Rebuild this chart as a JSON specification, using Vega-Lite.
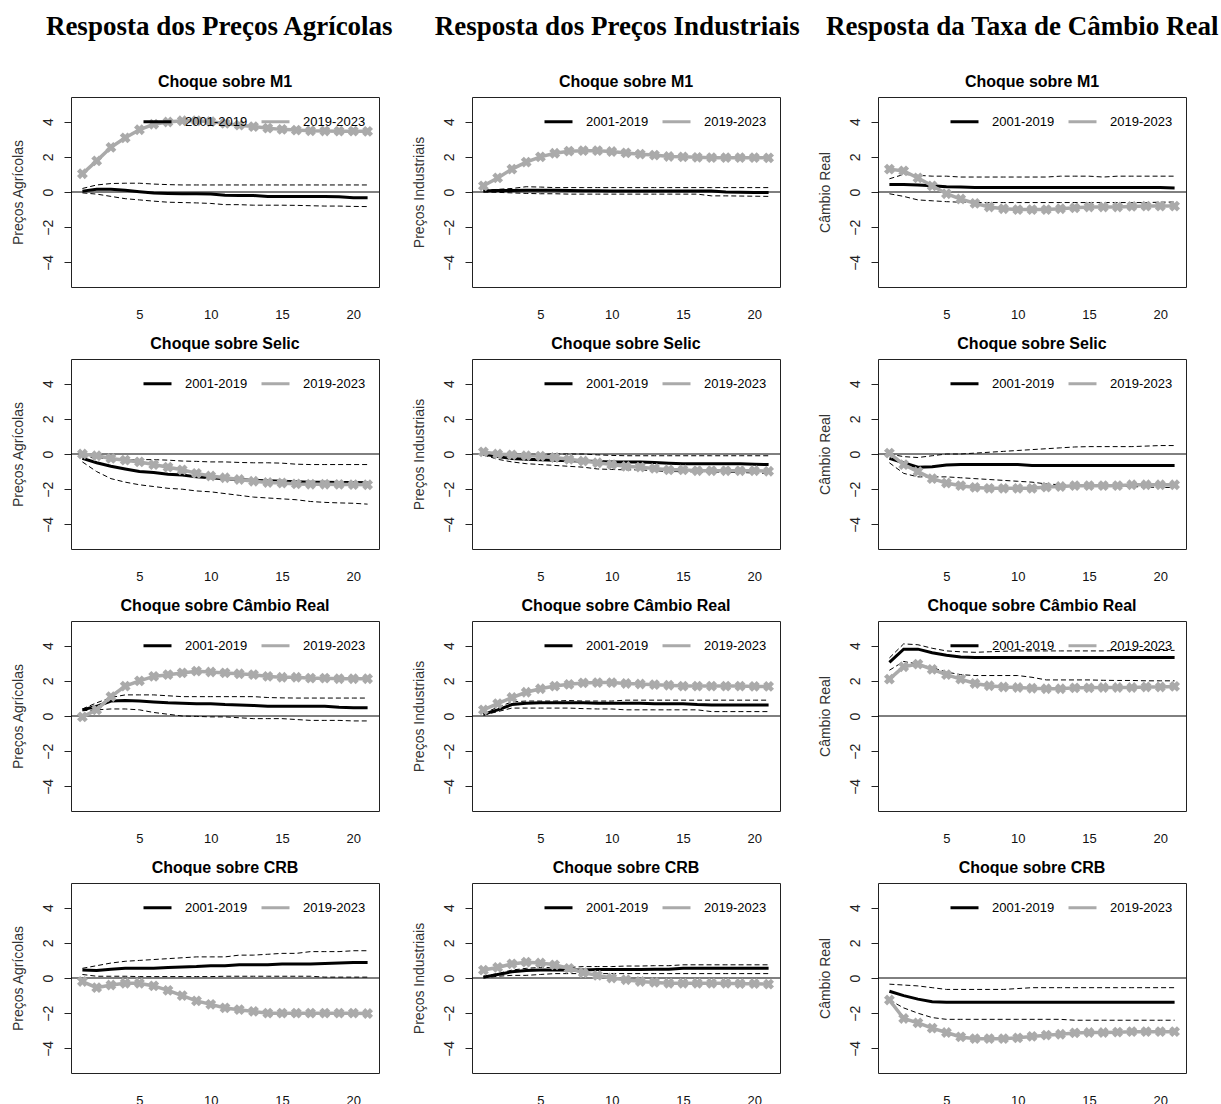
{
"$schema": "https://vega.github.io/schema/vega-lite/v6.json",
"padding": {"left": 10, "top": 12, "right": 0, "bottom": 0},
"data": {"values": [
{"p":"A1","h":1,"b":0.05,"u":0.2,"l":-0.05,"g":1.04},
{"p":"A1","h":2,"b":0.15,"u":0.4,"l":-0.12,"g":1.77},
{"p":"A1","h":3,"b":0.15,"u":0.48,"l":-0.25,"g":2.54},
{"p":"A1","h":4,"b":0.1,"u":0.5,"l":-0.38,"g":3.08},
{"p":"A1","h":5,"b":0.02,"u":0.5,"l":-0.45,"g":3.54},
{"p":"A1","h":6,"b":-0.05,"u":0.45,"l":-0.52,"g":3.85},
{"p":"A1","h":7,"b":-0.08,"u":0.42,"l":-0.58,"g":3.98},
{"p":"A1","h":8,"b":-0.1,"u":0.4,"l":-0.6,"g":4.05},
{"p":"A1","h":9,"b":-0.1,"u":0.4,"l":-0.62,"g":4.05},
{"p":"A1","h":10,"b":-0.12,"u":0.4,"l":-0.65,"g":4.0},
{"p":"A1","h":11,"b":-0.18,"u":0.4,"l":-0.72,"g":3.9},
{"p":"A1","h":12,"b":-0.2,"u":0.4,"l":-0.72,"g":3.8},
{"p":"A1","h":13,"b":-0.2,"u":0.4,"l":-0.75,"g":3.72},
{"p":"A1","h":14,"b":-0.25,"u":0.4,"l":-0.75,"g":3.63},
{"p":"A1","h":15,"b":-0.25,"u":0.4,"l":-0.75,"g":3.56},
{"p":"A1","h":16,"b":-0.25,"u":0.4,"l":-0.76,"g":3.52},
{"p":"A1","h":17,"b":-0.25,"u":0.4,"l":-0.78,"g":3.48},
{"p":"A1","h":18,"b":-0.26,"u":0.4,"l":-0.8,"g":3.47},
{"p":"A1","h":19,"b":-0.27,"u":0.4,"l":-0.8,"g":3.46},
{"p":"A1","h":20,"b":-0.32,"u":0.4,"l":-0.82,"g":3.46},
{"p":"A1","h":21,"b":-0.32,"u":0.4,"l":-0.83,"g":3.45},
{"p":"A2","h":1,"b":-0.25,"u":-0.15,"l":-0.45,"g":0.0},
{"p":"A2","h":2,"b":-0.5,"u":-0.2,"l":-1.0,"g":-0.1},
{"p":"A2","h":3,"b":-0.7,"u":-0.3,"l":-1.4,"g":-0.25},
{"p":"A2","h":4,"b":-0.85,"u":-0.35,"l":-1.6,"g":-0.35},
{"p":"A2","h":5,"b":-1.0,"u":-0.32,"l":-1.75,"g":-0.45},
{"p":"A2","h":6,"b":-1.05,"u":-0.32,"l":-1.85,"g":-0.6},
{"p":"A2","h":7,"b":-1.15,"u":-0.35,"l":-1.95,"g":-0.75},
{"p":"A2","h":8,"b":-1.2,"u":-0.4,"l":-2.0,"g":-0.9},
{"p":"A2","h":9,"b":-1.3,"u":-0.42,"l":-2.1,"g":-1.1},
{"p":"A2","h":10,"b":-1.35,"u":-0.45,"l":-2.15,"g":-1.25},
{"p":"A2","h":11,"b":-1.4,"u":-0.45,"l":-2.25,"g":-1.35},
{"p":"A2","h":12,"b":-1.45,"u":-0.48,"l":-2.35,"g":-1.45},
{"p":"A2","h":13,"b":-1.5,"u":-0.5,"l":-2.45,"g":-1.55},
{"p":"A2","h":14,"b":-1.52,"u":-0.5,"l":-2.5,"g":-1.62},
{"p":"A2","h":15,"b":-1.55,"u":-0.52,"l":-2.55,"g":-1.65},
{"p":"A2","h":16,"b":-1.58,"u":-0.58,"l":-2.6,"g":-1.7},
{"p":"A2","h":17,"b":-1.6,"u":-0.6,"l":-2.7,"g":-1.72},
{"p":"A2","h":18,"b":-1.6,"u":-0.6,"l":-2.75,"g":-1.72},
{"p":"A2","h":19,"b":-1.62,"u":-0.6,"l":-2.78,"g":-1.73},
{"p":"A2","h":20,"b":-1.62,"u":-0.6,"l":-2.8,"g":-1.74},
{"p":"A2","h":21,"b":-1.63,"u":-0.6,"l":-2.85,"g":-1.75},
{"p":"A3","h":1,"b":0.35,"u":0.4,"l":0.3,"g":-0.05},
{"p":"A3","h":2,"b":0.55,"u":0.75,"l":0.35,"g":0.35},
{"p":"A3","h":3,"b":0.85,"u":1.05,"l":0.4,"g":1.1},
{"p":"A3","h":4,"b":0.88,"u":1.2,"l":0.4,"g":1.7},
{"p":"A3","h":5,"b":0.85,"u":1.2,"l":0.35,"g":2.0},
{"p":"A3","h":6,"b":0.8,"u":1.2,"l":0.2,"g":2.25},
{"p":"A3","h":7,"b":0.75,"u":1.15,"l":0.1,"g":2.35},
{"p":"A3","h":8,"b":0.72,"u":1.1,"l":0.0,"g":2.45},
{"p":"A3","h":9,"b":0.7,"u":1.1,"l":-0.02,"g":2.55},
{"p":"A3","h":10,"b":0.7,"u":1.1,"l":-0.05,"g":2.5},
{"p":"A3","h":11,"b":0.65,"u":1.1,"l":-0.05,"g":2.45},
{"p":"A3","h":12,"b":0.63,"u":1.1,"l":-0.1,"g":2.4},
{"p":"A3","h":13,"b":0.6,"u":1.1,"l":-0.15,"g":2.35},
{"p":"A3","h":14,"b":0.55,"u":1.05,"l":-0.15,"g":2.25},
{"p":"A3","h":15,"b":0.55,"u":1.03,"l":-0.15,"g":2.2},
{"p":"A3","h":16,"b":0.55,"u":1.02,"l":-0.2,"g":2.2},
{"p":"A3","h":17,"b":0.55,"u":1.02,"l":-0.25,"g":2.15},
{"p":"A3","h":18,"b":0.55,"u":1.02,"l":-0.25,"g":2.15},
{"p":"A3","h":19,"b":0.5,"u":1.02,"l":-0.25,"g":2.12},
{"p":"A3","h":20,"b":0.47,"u":1.02,"l":-0.28,"g":2.12},
{"p":"A3","h":21,"b":0.47,"u":1.02,"l":-0.28,"g":2.12},
{"p":"A4","h":1,"b":0.45,"u":0.55,"l":0.2,"g":-0.2},
{"p":"A4","h":2,"b":0.42,"u":0.7,"l":0.1,"g":-0.55},
{"p":"A4","h":3,"b":0.5,"u":0.85,"l":0.1,"g":-0.4},
{"p":"A4","h":4,"b":0.55,"u":0.95,"l":0.1,"g":-0.3},
{"p":"A4","h":5,"b":0.55,"u":1.0,"l":0.08,"g":-0.3},
{"p":"A4","h":6,"b":0.55,"u":1.05,"l":0.08,"g":-0.45},
{"p":"A4","h":7,"b":0.6,"u":1.1,"l":0.08,"g":-0.7},
{"p":"A4","h":8,"b":0.62,"u":1.15,"l":0.08,"g":-1.0},
{"p":"A4","h":9,"b":0.65,"u":1.2,"l":0.08,"g":-1.3},
{"p":"A4","h":10,"b":0.7,"u":1.2,"l":0.08,"g":-1.5},
{"p":"A4","h":11,"b":0.7,"u":1.2,"l":0.1,"g":-1.7},
{"p":"A4","h":12,"b":0.75,"u":1.3,"l":0.1,"g":-1.8},
{"p":"A4","h":13,"b":0.75,"u":1.3,"l":0.1,"g":-1.9},
{"p":"A4","h":14,"b":0.75,"u":1.35,"l":0.1,"g":-2.0},
{"p":"A4","h":15,"b":0.8,"u":1.4,"l":0.1,"g":-2.0},
{"p":"A4","h":16,"b":0.8,"u":1.4,"l":0.1,"g":-2.0},
{"p":"A4","h":17,"b":0.8,"u":1.5,"l":0.1,"g":-2.0},
{"p":"A4","h":18,"b":0.82,"u":1.5,"l":0.05,"g":-2.0},
{"p":"A4","h":19,"b":0.85,"u":1.5,"l":0.05,"g":-2.0},
{"p":"A4","h":20,"b":0.88,"u":1.55,"l":0.05,"g":-2.0},
{"p":"A4","h":21,"b":0.88,"u":1.55,"l":0.05,"g":-2.02},
{"p":"I1","h":1,"b":0.05,"u":0.1,"l":0.0,"g":0.35},
{"p":"I1","h":2,"b":0.08,"u":0.15,"l":-0.02,"g":0.8},
{"p":"I1","h":3,"b":0.08,"u":0.2,"l":-0.05,"g":1.3},
{"p":"I1","h":4,"b":0.1,"u":0.3,"l":-0.08,"g":1.7},
{"p":"I1","h":5,"b":0.1,"u":0.28,"l":-0.1,"g":2.0},
{"p":"I1","h":6,"b":0.1,"u":0.25,"l":-0.1,"g":2.2},
{"p":"I1","h":7,"b":0.08,"u":0.25,"l":-0.12,"g":2.32},
{"p":"I1","h":8,"b":0.07,"u":0.25,"l":-0.12,"g":2.35},
{"p":"I1","h":9,"b":0.07,"u":0.25,"l":-0.12,"g":2.35},
{"p":"I1","h":10,"b":0.06,"u":0.25,"l":-0.12,"g":2.3},
{"p":"I1","h":11,"b":0.06,"u":0.25,"l":-0.12,"g":2.22},
{"p":"I1","h":12,"b":0.06,"u":0.25,"l":-0.12,"g":2.15},
{"p":"I1","h":13,"b":0.06,"u":0.25,"l":-0.12,"g":2.1},
{"p":"I1","h":14,"b":0.05,"u":0.25,"l":-0.12,"g":2.02},
{"p":"I1","h":15,"b":0.05,"u":0.25,"l":-0.12,"g":2.0},
{"p":"I1","h":16,"b":0.05,"u":0.25,"l":-0.12,"g":1.97},
{"p":"I1","h":17,"b":0.05,"u":0.25,"l":-0.22,"g":1.95},
{"p":"I1","h":18,"b":0.0,"u":0.25,"l":-0.22,"g":1.95},
{"p":"I1","h":19,"b":-0.02,"u":0.25,"l":-0.23,"g":1.95},
{"p":"I1","h":20,"b":-0.03,"u":0.25,"l":-0.24,"g":1.95},
{"p":"I1","h":21,"b":-0.03,"u":0.25,"l":-0.25,"g":1.94},
{"p":"I2","h":1,"b":0.0,"u":0.0,"l":-0.05,"g":0.12},
{"p":"I2","h":2,"b":-0.15,"u":-0.1,"l":-0.3,"g":0.0},
{"p":"I2","h":3,"b":-0.25,"u":-0.1,"l":-0.45,"g":-0.05},
{"p":"I2","h":4,"b":-0.3,"u":-0.05,"l":-0.55,"g":-0.1},
{"p":"I2","h":5,"b":-0.32,"u":-0.02,"l":-0.6,"g":-0.12},
{"p":"I2","h":6,"b":-0.35,"u":0.0,"l":-0.65,"g":-0.2},
{"p":"I2","h":7,"b":-0.38,"u":0.0,"l":-0.7,"g":-0.3},
{"p":"I2","h":8,"b":-0.4,"u":0.0,"l":-0.75,"g":-0.4},
{"p":"I2","h":9,"b":-0.42,"u":-0.05,"l":-0.85,"g":-0.5},
{"p":"I2","h":10,"b":-0.45,"u":-0.08,"l":-0.88,"g":-0.6},
{"p":"I2","h":11,"b":-0.45,"u":-0.1,"l":-0.9,"g":-0.7},
{"p":"I2","h":12,"b":-0.45,"u":-0.1,"l":-0.9,"g":-0.75},
{"p":"I2","h":13,"b":-0.48,"u":-0.1,"l":-0.95,"g":-0.82},
{"p":"I2","h":14,"b":-0.52,"u":-0.1,"l":-1.0,"g":-0.9},
{"p":"I2","h":15,"b":-0.55,"u":-0.1,"l":-1.0,"g":-0.9},
{"p":"I2","h":16,"b":-0.55,"u":-0.1,"l":-1.02,"g":-0.95},
{"p":"I2","h":17,"b":-0.55,"u":-0.1,"l":-1.02,"g":-0.95},
{"p":"I2","h":18,"b":-0.55,"u":-0.1,"l":-1.05,"g":-0.95},
{"p":"I2","h":19,"b":-0.55,"u":-0.1,"l":-1.05,"g":-0.95},
{"p":"I2","h":20,"b":-0.58,"u":-0.1,"l":-1.08,"g":-0.95},
{"p":"I2","h":21,"b":-0.6,"u":-0.1,"l":-1.1,"g":-0.98},
{"p":"I3","h":1,"b":0.1,"u":0.15,"l":0.05,"g":0.35},
{"p":"I3","h":2,"b":0.35,"u":0.5,"l":0.25,"g":0.7},
{"p":"I3","h":3,"b":0.65,"u":0.8,"l":0.45,"g":1.05},
{"p":"I3","h":4,"b":0.72,"u":0.85,"l":0.45,"g":1.35},
{"p":"I3","h":5,"b":0.75,"u":0.85,"l":0.45,"g":1.55},
{"p":"I3","h":6,"b":0.75,"u":0.85,"l":0.45,"g":1.7},
{"p":"I3","h":7,"b":0.75,"u":0.88,"l":0.45,"g":1.8},
{"p":"I3","h":8,"b":0.75,"u":0.85,"l":0.42,"g":1.88},
{"p":"I3","h":9,"b":0.72,"u":0.85,"l":0.4,"g":1.9},
{"p":"I3","h":10,"b":0.72,"u":0.85,"l":0.4,"g":1.9},
{"p":"I3","h":11,"b":0.72,"u":0.9,"l":0.35,"g":1.85},
{"p":"I3","h":12,"b":0.72,"u":0.9,"l":0.35,"g":1.82},
{"p":"I3","h":13,"b":0.7,"u":0.9,"l":0.35,"g":1.78},
{"p":"I3","h":14,"b":0.7,"u":0.9,"l":0.35,"g":1.75},
{"p":"I3","h":15,"b":0.7,"u":0.9,"l":0.35,"g":1.7},
{"p":"I3","h":16,"b":0.65,"u":0.9,"l":0.35,"g":1.7},
{"p":"I3","h":17,"b":0.63,"u":0.9,"l":0.25,"g":1.7},
{"p":"I3","h":18,"b":0.63,"u":0.9,"l":0.25,"g":1.7},
{"p":"I3","h":19,"b":0.62,"u":0.9,"l":0.25,"g":1.7},
{"p":"I3","h":20,"b":0.62,"u":0.9,"l":0.25,"g":1.68},
{"p":"I3","h":21,"b":0.62,"u":0.9,"l":0.25,"g":1.68},
{"p":"I4","h":1,"b":0.05,"u":0.1,"l":0.0,"g":0.45},
{"p":"I4","h":2,"b":0.2,"u":0.25,"l":0.1,"g":0.6},
{"p":"I4","h":3,"b":0.35,"u":0.45,"l":0.15,"g":0.8},
{"p":"I4","h":4,"b":0.42,"u":0.55,"l":0.15,"g":0.9},
{"p":"I4","h":5,"b":0.45,"u":0.6,"l":0.2,"g":0.85},
{"p":"I4","h":6,"b":0.45,"u":0.6,"l":0.25,"g":0.75},
{"p":"I4","h":7,"b":0.45,"u":0.6,"l":0.25,"g":0.55},
{"p":"I4","h":8,"b":0.45,"u":0.65,"l":0.25,"g":0.3},
{"p":"I4","h":9,"b":0.48,"u":0.65,"l":0.25,"g":0.15},
{"p":"I4","h":10,"b":0.48,"u":0.65,"l":0.25,"g":0.0},
{"p":"I4","h":11,"b":0.48,"u":0.68,"l":0.25,"g":-0.1},
{"p":"I4","h":12,"b":0.48,"u":0.68,"l":0.25,"g":-0.2},
{"p":"I4","h":13,"b":0.5,"u":0.7,"l":0.25,"g":-0.25},
{"p":"I4","h":14,"b":0.5,"u":0.7,"l":0.25,"g":-0.3},
{"p":"I4","h":15,"b":0.55,"u":0.75,"l":0.25,"g":-0.3},
{"p":"I4","h":16,"b":0.55,"u":0.75,"l":0.25,"g":-0.3},
{"p":"I4","h":17,"b":0.55,"u":0.75,"l":0.25,"g":-0.3},
{"p":"I4","h":18,"b":0.55,"u":0.75,"l":0.25,"g":-0.3},
{"p":"I4","h":19,"b":0.55,"u":0.75,"l":0.25,"g":-0.32},
{"p":"I4","h":20,"b":0.55,"u":0.75,"l":0.25,"g":-0.32},
{"p":"I4","h":21,"b":0.55,"u":0.75,"l":0.25,"g":-0.35},
{"p":"C1","h":1,"b":0.42,"u":0.75,"l":-0.1,"g":1.3},
{"p":"C1","h":2,"b":0.42,"u":1.0,"l":-0.25,"g":1.2},
{"p":"C1","h":3,"b":0.4,"u":0.95,"l":-0.45,"g":0.8},
{"p":"C1","h":4,"b":0.35,"u":0.9,"l":-0.5,"g":0.35},
{"p":"C1","h":5,"b":0.3,"u":0.9,"l":-0.55,"g":-0.1},
{"p":"C1","h":6,"b":0.28,"u":0.85,"l":-0.58,"g":-0.4},
{"p":"C1","h":7,"b":0.25,"u":0.85,"l":-0.6,"g":-0.65},
{"p":"C1","h":8,"b":0.25,"u":0.85,"l":-0.6,"g":-0.85},
{"p":"C1","h":9,"b":0.25,"u":0.85,"l":-0.6,"g":-0.95},
{"p":"C1","h":10,"b":0.25,"u":0.85,"l":-0.6,"g":-1.0},
{"p":"C1","h":11,"b":0.25,"u":0.85,"l":-0.6,"g":-1.0},
{"p":"C1","h":12,"b":0.25,"u":0.85,"l":-0.6,"g":-1.0},
{"p":"C1","h":13,"b":0.25,"u":0.9,"l":-0.6,"g":-0.95},
{"p":"C1","h":14,"b":0.25,"u":0.9,"l":-0.6,"g":-0.9},
{"p":"C1","h":15,"b":0.25,"u":0.9,"l":-0.6,"g":-0.85},
{"p":"C1","h":16,"b":0.25,"u":0.85,"l":-0.6,"g":-0.85},
{"p":"C1","h":17,"b":0.25,"u":0.9,"l":-0.6,"g":-0.85},
{"p":"C1","h":18,"b":0.25,"u":0.9,"l":-0.6,"g":-0.82},
{"p":"C1","h":19,"b":0.25,"u":0.9,"l":-0.6,"g":-0.8},
{"p":"C1","h":20,"b":0.25,"u":0.9,"l":-0.58,"g":-0.8},
{"p":"C1","h":21,"b":0.23,"u":0.9,"l":-0.57,"g":-0.8},
{"p":"C2","h":1,"b":-0.25,"u":0.0,"l":-0.5,"g":0.05},
{"p":"C2","h":2,"b":-0.5,"u":-0.15,"l":-1.1,"g":-0.6},
{"p":"C2","h":3,"b":-0.75,"u":-0.2,"l":-1.3,"g":-1.0},
{"p":"C2","h":4,"b":-0.72,"u":-0.1,"l":-1.3,"g":-1.4},
{"p":"C2","h":5,"b":-0.62,"u":0.0,"l":-1.3,"g":-1.65},
{"p":"C2","h":6,"b":-0.6,"u":0.0,"l":-1.35,"g":-1.8},
{"p":"C2","h":7,"b":-0.6,"u":0.05,"l":-1.4,"g":-1.9},
{"p":"C2","h":8,"b":-0.6,"u":0.1,"l":-1.45,"g":-1.95},
{"p":"C2","h":9,"b":-0.6,"u":0.15,"l":-1.5,"g":-1.95},
{"p":"C2","h":10,"b":-0.6,"u":0.2,"l":-1.55,"g":-1.95},
{"p":"C2","h":11,"b":-0.65,"u":0.25,"l":-1.6,"g":-1.95},
{"p":"C2","h":12,"b":-0.65,"u":0.3,"l":-1.7,"g":-1.88},
{"p":"C2","h":13,"b":-0.65,"u":0.35,"l":-1.75,"g":-1.85},
{"p":"C2","h":14,"b":-0.65,"u":0.4,"l":-1.8,"g":-1.8},
{"p":"C2","h":15,"b":-0.65,"u":0.42,"l":-1.82,"g":-1.8},
{"p":"C2","h":16,"b":-0.65,"u":0.42,"l":-1.83,"g":-1.8},
{"p":"C2","h":17,"b":-0.65,"u":0.42,"l":-1.84,"g":-1.8},
{"p":"C2","h":18,"b":-0.65,"u":0.42,"l":-1.85,"g":-1.75},
{"p":"C2","h":19,"b":-0.65,"u":0.45,"l":-1.88,"g":-1.75},
{"p":"C2","h":20,"b":-0.65,"u":0.48,"l":-1.9,"g":-1.75},
{"p":"C2","h":21,"b":-0.65,"u":0.48,"l":-1.9,"g":-1.75},
{"p":"C3","h":1,"b":3.05,"u":3.3,"l":2.6,"g":2.1},
{"p":"C3","h":2,"b":3.8,"u":4.1,"l":3.1,"g":2.8},
{"p":"C3","h":3,"b":3.8,"u":4.05,"l":2.95,"g":2.95},
{"p":"C3","h":4,"b":3.6,"u":3.85,"l":2.75,"g":2.65},
{"p":"C3","h":5,"b":3.45,"u":3.7,"l":2.5,"g":2.35},
{"p":"C3","h":6,"b":3.35,"u":3.65,"l":2.35,"g":2.1},
{"p":"C3","h":7,"b":3.33,"u":3.62,"l":2.3,"g":1.85},
{"p":"C3","h":8,"b":3.33,"u":3.65,"l":2.3,"g":1.72},
{"p":"C3","h":9,"b":3.33,"u":3.68,"l":2.3,"g":1.65},
{"p":"C3","h":10,"b":3.33,"u":3.7,"l":2.3,"g":1.62},
{"p":"C3","h":11,"b":3.33,"u":3.7,"l":2.2,"g":1.58},
{"p":"C3","h":12,"b":3.33,"u":3.7,"l":2.05,"g":1.55},
{"p":"C3","h":13,"b":3.33,"u":3.7,"l":2.05,"g":1.55},
{"p":"C3","h":14,"b":3.33,"u":3.7,"l":2.05,"g":1.6},
{"p":"C3","h":15,"b":3.33,"u":3.7,"l":2.05,"g":1.6},
{"p":"C3","h":16,"b":3.33,"u":3.7,"l":2.03,"g":1.62},
{"p":"C3","h":17,"b":3.33,"u":3.72,"l":2.02,"g":1.62},
{"p":"C3","h":18,"b":3.33,"u":3.72,"l":2.02,"g":1.62},
{"p":"C3","h":19,"b":3.33,"u":3.72,"l":2.0,"g":1.65},
{"p":"C3","h":20,"b":3.33,"u":3.72,"l":2.0,"g":1.65},
{"p":"C3","h":21,"b":3.32,"u":3.73,"l":2.0,"g":1.68},
{"p":"C4","h":1,"b":-0.75,"u":-0.35,"l":-1.25,"g":-1.25},
{"p":"C4","h":2,"b":-1.0,"u":-0.4,"l":-1.7,"g":-2.3},
{"p":"C4","h":3,"b":-1.2,"u":-0.45,"l":-2.0,"g":-2.55},
{"p":"C4","h":4,"b":-1.35,"u":-0.55,"l":-2.25,"g":-2.85},
{"p":"C4","h":5,"b":-1.38,"u":-0.65,"l":-2.35,"g":-3.1},
{"p":"C4","h":6,"b":-1.38,"u":-0.65,"l":-2.35,"g":-3.35},
{"p":"C4","h":7,"b":-1.38,"u":-0.65,"l":-2.35,"g":-3.45},
{"p":"C4","h":8,"b":-1.38,"u":-0.65,"l":-2.35,"g":-3.45},
{"p":"C4","h":9,"b":-1.38,"u":-0.65,"l":-2.35,"g":-3.45},
{"p":"C4","h":10,"b":-1.38,"u":-0.6,"l":-2.35,"g":-3.4},
{"p":"C4","h":11,"b":-1.38,"u":-0.55,"l":-2.35,"g":-3.32},
{"p":"C4","h":12,"b":-1.38,"u":-0.55,"l":-2.35,"g":-3.25},
{"p":"C4","h":13,"b":-1.38,"u":-0.55,"l":-2.35,"g":-3.2},
{"p":"C4","h":14,"b":-1.38,"u":-0.55,"l":-2.4,"g":-3.12},
{"p":"C4","h":15,"b":-1.38,"u":-0.55,"l":-2.4,"g":-3.1},
{"p":"C4","h":16,"b":-1.38,"u":-0.55,"l":-2.4,"g":-3.1},
{"p":"C4","h":17,"b":-1.38,"u":-0.55,"l":-2.4,"g":-3.08},
{"p":"C4","h":18,"b":-1.38,"u":-0.55,"l":-2.4,"g":-3.05},
{"p":"C4","h":19,"b":-1.38,"u":-0.55,"l":-2.4,"g":-3.05},
{"p":"C4","h":20,"b":-1.38,"u":-0.55,"l":-2.4,"g":-3.05},
{"p":"C4","h":21,"b":-1.38,"u":-0.55,"l":-2.4,"g":-3.05}
]},
"hconcat": [
{"title": {"text": "Resposta dos Preços Agrícolas", "font": "Liberation Serif", "fontSize": 27, "fontWeight": "bold", "anchor": "middle", "frame": "bounds", "dx": 24, "offset": 33},
 "spacing": 13,
 "resolve": {"scale": {"color": "independent"}, "legend": {"color": "independent"}},
 "vconcat": [
  {"title": "Choque sobre M1", "width": 308, "height": 190, "transform": [{"filter": "datum.p == 'A1'"}], "layer": [
   {"mark": {"type": "line", "color": "black", "strokeWidth": 1, "strokeDash": [5, 3]}, "encoding": {"x": {"field": "h", "type": "quantitative", "scale": {"domain": [0.2, 21.8], "nice": false, "zero": false}, "title": null}, "y": {"field": "u", "type": "quantitative", "scale": {"domain": [-5.4, 5.4], "nice": false, "zero": false}, "title": "Preços Agrícolas"}}},
   {"mark": {"type": "line", "color": "black", "strokeWidth": 1, "strokeDash": [5, 3]}, "encoding": {"x": {"field": "h", "type": "quantitative", "title": null}, "y": {"field": "l", "type": "quantitative", "title": "Preços Agrícolas"}}},
   {"mark": {"type": "rule", "color": "black", "strokeWidth": 1}, "transform": [{"filter": "datum.h == 1"}], "encoding": {"y": {"datum": 0, "title": "Preços Agrícolas"}}},
   {"mark": {"type": "line", "strokeWidth": 3}, "encoding": {"x": {"field": "h", "type": "quantitative", "title": null}, "y": {"field": "b", "type": "quantitative", "title": "Preços Agrícolas"}, "color": {"datum": "2001-2019", "scale": {"domain": ["2001-2019", "2019-2023"], "range": ["black", "#aaaaaa"]}, "legend": {"title": null}}}},
   {"mark": {"type": "line", "strokeWidth": 3.5}, "encoding": {"x": {"field": "h", "type": "quantitative", "title": null}, "y": {"field": "g", "type": "quantitative", "title": "Preços Agrícolas"}, "color": {"datum": "2019-2023"}}},
   {"mark": {"type": "point", "shape": "cross", "angle": 45, "filled": true, "size": 120, "color": "#aaaaaa", "opacity": 1}, "encoding": {"x": {"field": "h", "type": "quantitative", "title": null}, "y": {"field": "g", "type": "quantitative", "title": "Preços Agrícolas"}}}
  ]},
  {"title": "Choque sobre Selic", "width": 308, "height": 190, "transform": [{"filter": "datum.p == 'A2'"}], "layer": [
   {"mark": {"type": "line", "color": "black", "strokeWidth": 1, "strokeDash": [5, 3]}, "encoding": {"x": {"field": "h", "type": "quantitative", "scale": {"domain": [0.2, 21.8], "nice": false, "zero": false}, "title": null}, "y": {"field": "u", "type": "quantitative", "scale": {"domain": [-5.4, 5.4], "nice": false, "zero": false}, "title": "Preços Agrícolas"}}},
   {"mark": {"type": "line", "color": "black", "strokeWidth": 1, "strokeDash": [5, 3]}, "encoding": {"x": {"field": "h", "type": "quantitative", "title": null}, "y": {"field": "l", "type": "quantitative", "title": "Preços Agrícolas"}}},
   {"mark": {"type": "rule", "color": "black", "strokeWidth": 1}, "transform": [{"filter": "datum.h == 1"}], "encoding": {"y": {"datum": 0, "title": "Preços Agrícolas"}}},
   {"mark": {"type": "line", "strokeWidth": 3}, "encoding": {"x": {"field": "h", "type": "quantitative", "title": null}, "y": {"field": "b", "type": "quantitative", "title": "Preços Agrícolas"}, "color": {"datum": "2001-2019", "scale": {"domain": ["2001-2019", "2019-2023"], "range": ["black", "#aaaaaa"]}, "legend": {"title": null}}}},
   {"mark": {"type": "line", "strokeWidth": 3.5}, "encoding": {"x": {"field": "h", "type": "quantitative", "title": null}, "y": {"field": "g", "type": "quantitative", "title": "Preços Agrícolas"}, "color": {"datum": "2019-2023"}}},
   {"mark": {"type": "point", "shape": "cross", "angle": 45, "filled": true, "size": 120, "color": "#aaaaaa", "opacity": 1}, "encoding": {"x": {"field": "h", "type": "quantitative", "title": null}, "y": {"field": "g", "type": "quantitative", "title": "Preços Agrícolas"}}}
  ]},
  {"title": "Choque sobre Câmbio Real", "width": 308, "height": 190, "transform": [{"filter": "datum.p == 'A3'"}], "layer": [
   {"mark": {"type": "line", "color": "black", "strokeWidth": 1, "strokeDash": [5, 3]}, "encoding": {"x": {"field": "h", "type": "quantitative", "scale": {"domain": [0.2, 21.8], "nice": false, "zero": false}, "title": null}, "y": {"field": "u", "type": "quantitative", "scale": {"domain": [-5.4, 5.4], "nice": false, "zero": false}, "title": "Preços Agrícolas"}}},
   {"mark": {"type": "line", "color": "black", "strokeWidth": 1, "strokeDash": [5, 3]}, "encoding": {"x": {"field": "h", "type": "quantitative", "title": null}, "y": {"field": "l", "type": "quantitative", "title": "Preços Agrícolas"}}},
   {"mark": {"type": "rule", "color": "black", "strokeWidth": 1}, "transform": [{"filter": "datum.h == 1"}], "encoding": {"y": {"datum": 0, "title": "Preços Agrícolas"}}},
   {"mark": {"type": "line", "strokeWidth": 3}, "encoding": {"x": {"field": "h", "type": "quantitative", "title": null}, "y": {"field": "b", "type": "quantitative", "title": "Preços Agrícolas"}, "color": {"datum": "2001-2019", "scale": {"domain": ["2001-2019", "2019-2023"], "range": ["black", "#aaaaaa"]}, "legend": {"title": null}}}},
   {"mark": {"type": "line", "strokeWidth": 3.5}, "encoding": {"x": {"field": "h", "type": "quantitative", "title": null}, "y": {"field": "g", "type": "quantitative", "title": "Preços Agrícolas"}, "color": {"datum": "2019-2023"}}},
   {"mark": {"type": "point", "shape": "cross", "angle": 45, "filled": true, "size": 120, "color": "#aaaaaa", "opacity": 1}, "encoding": {"x": {"field": "h", "type": "quantitative", "title": null}, "y": {"field": "g", "type": "quantitative", "title": "Preços Agrícolas"}}}
  ]},
  {"title": "Choque sobre CRB", "width": 308, "height": 190, "transform": [{"filter": "datum.p == 'A4'"}], "layer": [
   {"mark": {"type": "line", "color": "black", "strokeWidth": 1, "strokeDash": [5, 3]}, "encoding": {"x": {"field": "h", "type": "quantitative", "scale": {"domain": [0.2, 21.8], "nice": false, "zero": false}, "title": null}, "y": {"field": "u", "type": "quantitative", "scale": {"domain": [-5.4, 5.4], "nice": false, "zero": false}, "title": "Preços Agrícolas"}}},
   {"mark": {"type": "line", "color": "black", "strokeWidth": 1, "strokeDash": [5, 3]}, "encoding": {"x": {"field": "h", "type": "quantitative", "title": null}, "y": {"field": "l", "type": "quantitative", "title": "Preços Agrícolas"}}},
   {"mark": {"type": "rule", "color": "black", "strokeWidth": 1}, "transform": [{"filter": "datum.h == 1"}], "encoding": {"y": {"datum": 0, "title": "Preços Agrícolas"}}},
   {"mark": {"type": "line", "strokeWidth": 3}, "encoding": {"x": {"field": "h", "type": "quantitative", "title": null}, "y": {"field": "b", "type": "quantitative", "title": "Preços Agrícolas"}, "color": {"datum": "2001-2019", "scale": {"domain": ["2001-2019", "2019-2023"], "range": ["black", "#aaaaaa"]}, "legend": {"title": null}}}},
   {"mark": {"type": "line", "strokeWidth": 3.5}, "encoding": {"x": {"field": "h", "type": "quantitative", "title": null}, "y": {"field": "g", "type": "quantitative", "title": "Preços Agrícolas"}, "color": {"datum": "2019-2023"}}},
   {"mark": {"type": "point", "shape": "cross", "angle": 45, "filled": true, "size": 120, "color": "#aaaaaa", "opacity": 1}, "encoding": {"x": {"field": "h", "type": "quantitative", "title": null}, "y": {"field": "g", "type": "quantitative", "title": "Preços Agrícolas"}}}
  ]}
 ]},
{"title": {"text": "Resposta dos Preços Industriais", "font": "Liberation Serif", "fontSize": 27, "fontWeight": "bold", "anchor": "middle", "frame": "bounds", "dx": 21, "offset": 33},
 "spacing": 13,
 "resolve": {"scale": {"color": "independent"}, "legend": {"color": "independent"}},
 "vconcat": [
  {"title": "Choque sobre M1", "width": 308, "height": 190, "transform": [{"filter": "datum.p == 'I1'"}], "layer": [
   {"mark": {"type": "line", "color": "black", "strokeWidth": 1, "strokeDash": [5, 3]}, "encoding": {"x": {"field": "h", "type": "quantitative", "scale": {"domain": [0.2, 21.8], "nice": false, "zero": false}, "title": null}, "y": {"field": "u", "type": "quantitative", "scale": {"domain": [-5.4, 5.4], "nice": false, "zero": false}, "title": "Preços Industriais"}}},
   {"mark": {"type": "line", "color": "black", "strokeWidth": 1, "strokeDash": [5, 3]}, "encoding": {"x": {"field": "h", "type": "quantitative", "title": null}, "y": {"field": "l", "type": "quantitative", "title": "Preços Industriais"}}},
   {"mark": {"type": "rule", "color": "black", "strokeWidth": 1}, "transform": [{"filter": "datum.h == 1"}], "encoding": {"y": {"datum": 0, "title": "Preços Industriais"}}},
   {"mark": {"type": "line", "strokeWidth": 3}, "encoding": {"x": {"field": "h", "type": "quantitative", "title": null}, "y": {"field": "b", "type": "quantitative", "title": "Preços Industriais"}, "color": {"datum": "2001-2019", "scale": {"domain": ["2001-2019", "2019-2023"], "range": ["black", "#aaaaaa"]}, "legend": {"title": null}}}},
   {"mark": {"type": "line", "strokeWidth": 3.5}, "encoding": {"x": {"field": "h", "type": "quantitative", "title": null}, "y": {"field": "g", "type": "quantitative", "title": "Preços Industriais"}, "color": {"datum": "2019-2023"}}},
   {"mark": {"type": "point", "shape": "cross", "angle": 45, "filled": true, "size": 120, "color": "#aaaaaa", "opacity": 1}, "encoding": {"x": {"field": "h", "type": "quantitative", "title": null}, "y": {"field": "g", "type": "quantitative", "title": "Preços Industriais"}}}
  ]},
  {"title": "Choque sobre Selic", "width": 308, "height": 190, "transform": [{"filter": "datum.p == 'I2'"}], "layer": [
   {"mark": {"type": "line", "color": "black", "strokeWidth": 1, "strokeDash": [5, 3]}, "encoding": {"x": {"field": "h", "type": "quantitative", "scale": {"domain": [0.2, 21.8], "nice": false, "zero": false}, "title": null}, "y": {"field": "u", "type": "quantitative", "scale": {"domain": [-5.4, 5.4], "nice": false, "zero": false}, "title": "Preços Industriais"}}},
   {"mark": {"type": "line", "color": "black", "strokeWidth": 1, "strokeDash": [5, 3]}, "encoding": {"x": {"field": "h", "type": "quantitative", "title": null}, "y": {"field": "l", "type": "quantitative", "title": "Preços Industriais"}}},
   {"mark": {"type": "rule", "color": "black", "strokeWidth": 1}, "transform": [{"filter": "datum.h == 1"}], "encoding": {"y": {"datum": 0, "title": "Preços Industriais"}}},
   {"mark": {"type": "line", "strokeWidth": 3}, "encoding": {"x": {"field": "h", "type": "quantitative", "title": null}, "y": {"field": "b", "type": "quantitative", "title": "Preços Industriais"}, "color": {"datum": "2001-2019", "scale": {"domain": ["2001-2019", "2019-2023"], "range": ["black", "#aaaaaa"]}, "legend": {"title": null}}}},
   {"mark": {"type": "line", "strokeWidth": 3.5}, "encoding": {"x": {"field": "h", "type": "quantitative", "title": null}, "y": {"field": "g", "type": "quantitative", "title": "Preços Industriais"}, "color": {"datum": "2019-2023"}}},
   {"mark": {"type": "point", "shape": "cross", "angle": 45, "filled": true, "size": 120, "color": "#aaaaaa", "opacity": 1}, "encoding": {"x": {"field": "h", "type": "quantitative", "title": null}, "y": {"field": "g", "type": "quantitative", "title": "Preços Industriais"}}}
  ]},
  {"title": "Choque sobre Câmbio Real", "width": 308, "height": 190, "transform": [{"filter": "datum.p == 'I3'"}], "layer": [
   {"mark": {"type": "line", "color": "black", "strokeWidth": 1, "strokeDash": [5, 3]}, "encoding": {"x": {"field": "h", "type": "quantitative", "scale": {"domain": [0.2, 21.8], "nice": false, "zero": false}, "title": null}, "y": {"field": "u", "type": "quantitative", "scale": {"domain": [-5.4, 5.4], "nice": false, "zero": false}, "title": "Preços Industriais"}}},
   {"mark": {"type": "line", "color": "black", "strokeWidth": 1, "strokeDash": [5, 3]}, "encoding": {"x": {"field": "h", "type": "quantitative", "title": null}, "y": {"field": "l", "type": "quantitative", "title": "Preços Industriais"}}},
   {"mark": {"type": "rule", "color": "black", "strokeWidth": 1}, "transform": [{"filter": "datum.h == 1"}], "encoding": {"y": {"datum": 0, "title": "Preços Industriais"}}},
   {"mark": {"type": "line", "strokeWidth": 3}, "encoding": {"x": {"field": "h", "type": "quantitative", "title": null}, "y": {"field": "b", "type": "quantitative", "title": "Preços Industriais"}, "color": {"datum": "2001-2019", "scale": {"domain": ["2001-2019", "2019-2023"], "range": ["black", "#aaaaaa"]}, "legend": {"title": null}}}},
   {"mark": {"type": "line", "strokeWidth": 3.5}, "encoding": {"x": {"field": "h", "type": "quantitative", "title": null}, "y": {"field": "g", "type": "quantitative", "title": "Preços Industriais"}, "color": {"datum": "2019-2023"}}},
   {"mark": {"type": "point", "shape": "cross", "angle": 45, "filled": true, "size": 120, "color": "#aaaaaa", "opacity": 1}, "encoding": {"x": {"field": "h", "type": "quantitative", "title": null}, "y": {"field": "g", "type": "quantitative", "title": "Preços Industriais"}}}
  ]},
  {"title": "Choque sobre CRB", "width": 308, "height": 190, "transform": [{"filter": "datum.p == 'I4'"}], "layer": [
   {"mark": {"type": "line", "color": "black", "strokeWidth": 1, "strokeDash": [5, 3]}, "encoding": {"x": {"field": "h", "type": "quantitative", "scale": {"domain": [0.2, 21.8], "nice": false, "zero": false}, "title": null}, "y": {"field": "u", "type": "quantitative", "scale": {"domain": [-5.4, 5.4], "nice": false, "zero": false}, "title": "Preços Industriais"}}},
   {"mark": {"type": "line", "color": "black", "strokeWidth": 1, "strokeDash": [5, 3]}, "encoding": {"x": {"field": "h", "type": "quantitative", "title": null}, "y": {"field": "l", "type": "quantitative", "title": "Preços Industriais"}}},
   {"mark": {"type": "rule", "color": "black", "strokeWidth": 1}, "transform": [{"filter": "datum.h == 1"}], "encoding": {"y": {"datum": 0, "title": "Preços Industriais"}}},
   {"mark": {"type": "line", "strokeWidth": 3}, "encoding": {"x": {"field": "h", "type": "quantitative", "title": null}, "y": {"field": "b", "type": "quantitative", "title": "Preços Industriais"}, "color": {"datum": "2001-2019", "scale": {"domain": ["2001-2019", "2019-2023"], "range": ["black", "#aaaaaa"]}, "legend": {"title": null}}}},
   {"mark": {"type": "line", "strokeWidth": 3.5}, "encoding": {"x": {"field": "h", "type": "quantitative", "title": null}, "y": {"field": "g", "type": "quantitative", "title": "Preços Industriais"}, "color": {"datum": "2019-2023"}}},
   {"mark": {"type": "point", "shape": "cross", "angle": 45, "filled": true, "size": 120, "color": "#aaaaaa", "opacity": 1}, "encoding": {"x": {"field": "h", "type": "quantitative", "title": null}, "y": {"field": "g", "type": "quantitative", "title": "Preços Industriais"}}}
  ]}
 ]},
{"title": {"text": "Resposta da Taxa de Câmbio Real", "font": "Liberation Serif", "fontSize": 27, "fontWeight": "bold", "anchor": "middle", "frame": "bounds", "dx": 20, "offset": 33},
 "spacing": 13,
 "resolve": {"scale": {"color": "independent"}, "legend": {"color": "independent"}},
 "vconcat": [
  {"title": "Choque sobre M1", "width": 308, "height": 190, "transform": [{"filter": "datum.p == 'C1'"}], "layer": [
   {"mark": {"type": "line", "color": "black", "strokeWidth": 1, "strokeDash": [5, 3]}, "encoding": {"x": {"field": "h", "type": "quantitative", "scale": {"domain": [0.2, 21.8], "nice": false, "zero": false}, "title": null}, "y": {"field": "u", "type": "quantitative", "scale": {"domain": [-5.4, 5.4], "nice": false, "zero": false}, "title": "Câmbio Real"}}},
   {"mark": {"type": "line", "color": "black", "strokeWidth": 1, "strokeDash": [5, 3]}, "encoding": {"x": {"field": "h", "type": "quantitative", "title": null}, "y": {"field": "l", "type": "quantitative", "title": "Câmbio Real"}}},
   {"mark": {"type": "rule", "color": "black", "strokeWidth": 1}, "transform": [{"filter": "datum.h == 1"}], "encoding": {"y": {"datum": 0, "title": "Câmbio Real"}}},
   {"mark": {"type": "line", "strokeWidth": 3}, "encoding": {"x": {"field": "h", "type": "quantitative", "title": null}, "y": {"field": "b", "type": "quantitative", "title": "Câmbio Real"}, "color": {"datum": "2001-2019", "scale": {"domain": ["2001-2019", "2019-2023"], "range": ["black", "#aaaaaa"]}, "legend": {"title": null}}}},
   {"mark": {"type": "line", "strokeWidth": 3.5}, "encoding": {"x": {"field": "h", "type": "quantitative", "title": null}, "y": {"field": "g", "type": "quantitative", "title": "Câmbio Real"}, "color": {"datum": "2019-2023"}}},
   {"mark": {"type": "point", "shape": "cross", "angle": 45, "filled": true, "size": 120, "color": "#aaaaaa", "opacity": 1}, "encoding": {"x": {"field": "h", "type": "quantitative", "title": null}, "y": {"field": "g", "type": "quantitative", "title": "Câmbio Real"}}}
  ]},
  {"title": "Choque sobre Selic", "width": 308, "height": 190, "transform": [{"filter": "datum.p == 'C2'"}], "layer": [
   {"mark": {"type": "line", "color": "black", "strokeWidth": 1, "strokeDash": [5, 3]}, "encoding": {"x": {"field": "h", "type": "quantitative", "scale": {"domain": [0.2, 21.8], "nice": false, "zero": false}, "title": null}, "y": {"field": "u", "type": "quantitative", "scale": {"domain": [-5.4, 5.4], "nice": false, "zero": false}, "title": "Câmbio Real"}}},
   {"mark": {"type": "line", "color": "black", "strokeWidth": 1, "strokeDash": [5, 3]}, "encoding": {"x": {"field": "h", "type": "quantitative", "title": null}, "y": {"field": "l", "type": "quantitative", "title": "Câmbio Real"}}},
   {"mark": {"type": "rule", "color": "black", "strokeWidth": 1}, "transform": [{"filter": "datum.h == 1"}], "encoding": {"y": {"datum": 0, "title": "Câmbio Real"}}},
   {"mark": {"type": "line", "strokeWidth": 3}, "encoding": {"x": {"field": "h", "type": "quantitative", "title": null}, "y": {"field": "b", "type": "quantitative", "title": "Câmbio Real"}, "color": {"datum": "2001-2019", "scale": {"domain": ["2001-2019", "2019-2023"], "range": ["black", "#aaaaaa"]}, "legend": {"title": null}}}},
   {"mark": {"type": "line", "strokeWidth": 3.5}, "encoding": {"x": {"field": "h", "type": "quantitative", "title": null}, "y": {"field": "g", "type": "quantitative", "title": "Câmbio Real"}, "color": {"datum": "2019-2023"}}},
   {"mark": {"type": "point", "shape": "cross", "angle": 45, "filled": true, "size": 120, "color": "#aaaaaa", "opacity": 1}, "encoding": {"x": {"field": "h", "type": "quantitative", "title": null}, "y": {"field": "g", "type": "quantitative", "title": "Câmbio Real"}}}
  ]},
  {"title": "Choque sobre Câmbio Real", "width": 308, "height": 190, "transform": [{"filter": "datum.p == 'C3'"}], "layer": [
   {"mark": {"type": "line", "color": "black", "strokeWidth": 1, "strokeDash": [5, 3]}, "encoding": {"x": {"field": "h", "type": "quantitative", "scale": {"domain": [0.2, 21.8], "nice": false, "zero": false}, "title": null}, "y": {"field": "u", "type": "quantitative", "scale": {"domain": [-5.4, 5.4], "nice": false, "zero": false}, "title": "Câmbio Real"}}},
   {"mark": {"type": "line", "color": "black", "strokeWidth": 1, "strokeDash": [5, 3]}, "encoding": {"x": {"field": "h", "type": "quantitative", "title": null}, "y": {"field": "l", "type": "quantitative", "title": "Câmbio Real"}}},
   {"mark": {"type": "rule", "color": "black", "strokeWidth": 1}, "transform": [{"filter": "datum.h == 1"}], "encoding": {"y": {"datum": 0, "title": "Câmbio Real"}}},
   {"mark": {"type": "line", "strokeWidth": 3}, "encoding": {"x": {"field": "h", "type": "quantitative", "title": null}, "y": {"field": "b", "type": "quantitative", "title": "Câmbio Real"}, "color": {"datum": "2001-2019", "scale": {"domain": ["2001-2019", "2019-2023"], "range": ["black", "#aaaaaa"]}, "legend": {"title": null}}}},
   {"mark": {"type": "line", "strokeWidth": 3.5}, "encoding": {"x": {"field": "h", "type": "quantitative", "title": null}, "y": {"field": "g", "type": "quantitative", "title": "Câmbio Real"}, "color": {"datum": "2019-2023"}}},
   {"mark": {"type": "point", "shape": "cross", "angle": 45, "filled": true, "size": 120, "color": "#aaaaaa", "opacity": 1}, "encoding": {"x": {"field": "h", "type": "quantitative", "title": null}, "y": {"field": "g", "type": "quantitative", "title": "Câmbio Real"}}}
  ]},
  {"title": "Choque sobre CRB", "width": 308, "height": 190, "transform": [{"filter": "datum.p == 'C4'"}], "layer": [
   {"mark": {"type": "line", "color": "black", "strokeWidth": 1, "strokeDash": [5, 3]}, "encoding": {"x": {"field": "h", "type": "quantitative", "scale": {"domain": [0.2, 21.8], "nice": false, "zero": false}, "title": null}, "y": {"field": "u", "type": "quantitative", "scale": {"domain": [-5.4, 5.4], "nice": false, "zero": false}, "title": "Câmbio Real"}}},
   {"mark": {"type": "line", "color": "black", "strokeWidth": 1, "strokeDash": [5, 3]}, "encoding": {"x": {"field": "h", "type": "quantitative", "title": null}, "y": {"field": "l", "type": "quantitative", "title": "Câmbio Real"}}},
   {"mark": {"type": "rule", "color": "black", "strokeWidth": 1}, "transform": [{"filter": "datum.h == 1"}], "encoding": {"y": {"datum": 0, "title": "Câmbio Real"}}},
   {"mark": {"type": "line", "strokeWidth": 3}, "encoding": {"x": {"field": "h", "type": "quantitative", "title": null}, "y": {"field": "b", "type": "quantitative", "title": "Câmbio Real"}, "color": {"datum": "2001-2019", "scale": {"domain": ["2001-2019", "2019-2023"], "range": ["black", "#aaaaaa"]}, "legend": {"title": null}}}},
   {"mark": {"type": "line", "strokeWidth": 3.5}, "encoding": {"x": {"field": "h", "type": "quantitative", "title": null}, "y": {"field": "g", "type": "quantitative", "title": "Câmbio Real"}, "color": {"datum": "2019-2023"}}},
   {"mark": {"type": "point", "shape": "cross", "angle": 45, "filled": true, "size": 120, "color": "#aaaaaa", "opacity": 1}, "encoding": {"x": {"field": "h", "type": "quantitative", "title": null}, "y": {"field": "g", "type": "quantitative", "title": "Câmbio Real"}}}
  ]}
 ]}
],
"spacing": 17,
"resolve": {"scale": {"color": "independent"}, "legend": {"color": "independent"}},
"config": {
 "font": "Liberation Sans",
 "view": {"stroke": "#222222", "strokeWidth": 1},
 "axis": {"grid": false, "domain": false, "labelColor": "#222222", "titleColor": "#333333", "labelFont": "Liberation Sans", "labelFontSize": 14, "titleFont": "Liberation Sans", "titleFontSize": 14, "titleFontWeight": "normal", "tickColor": "#222222"},
 "axisY": {"tickCount": 5, "labelAngle": -90, "labelAlign": "center", "labelBaseline": "bottom", "tickSize": 7, "labelPadding": 9, "titlePadding": 16},
 "axisX": {"tickCount": 4, "ticks": false, "labelPadding": 21, "labelFont": "Liberation Sans", "labelFontSize": 13, "labelColor": "#111111"},
 "title": {"font": "Liberation Sans", "fontSize": 16, "fontWeight": "bold", "anchor": "middle", "frame": "group", "offset": 7, "color": "black"},
 "legend": {"orient": "none", "legendX": 71, "legendY": 9, "direction": "horizontal", "symbolType": "stroke", "symbolSize": 784, "symbolStrokeWidth": 3, "labelFont": "Liberation Sans", "labelFontSize": 13, "labelColor": "black", "labelOffset": 12, "columnPadding": 7, "padding": 0}
}
}
